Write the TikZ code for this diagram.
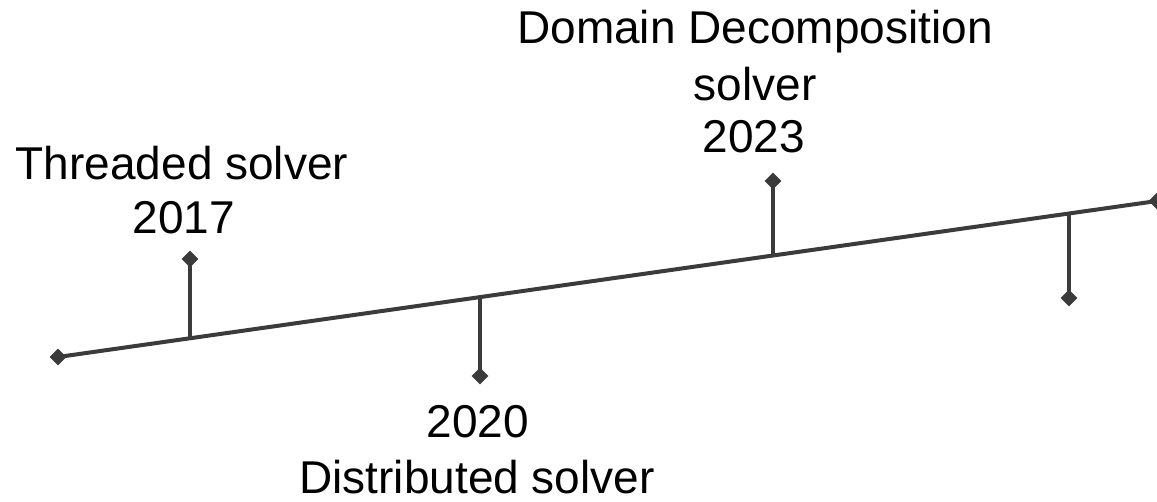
\documentclass[tikz,border=0pt]{standalone}
\usepackage{fontspec}
\setmainfont{Liberation Sans}
\usetikzlibrary{shapes.geometric}
\definecolor{linegray}{HTML}{3B3B3B}
\begin{document}
\begin{tikzpicture}[x=1pt,y=-1pt,
  axis/.style={draw=linegray,line width=4pt},
  stem/.style={draw=linegray,line width=4pt},
  knot/.style={diamond,fill=linegray,inner sep=0pt,minimum width=17pt,minimum height=17pt},
  txt/.style={anchor=base,inner sep=0pt,font=\fontsize{46}{55}\selectfont}]
  \useasboundingbox (0,0) rectangle (1157,501);

  % the time axis
  \coordinate (start) at (58,357);
  \coordinate (end) at (1157,201);
  \draw[axis] (start) -- (end);
  \node[knot] (k0) at (start) {};
  \node[knot] (k5) at (end) {};

  % points where the stems leave the axis
  \coordinate (b1) at (190,338.3);
  \coordinate (b2) at (480,297.1);
  \coordinate (b3) at (773,255.5);
  \coordinate (b4) at (1069,213.5);

  % stem tips
  \node[knot] (k1) at (190,259) {};
  \node[knot] (k2) at (480,376) {};
  \node[knot] (k3) at (773,181) {};
  \node[knot] (k4) at (1069,298) {};

  \draw[stem] (b1) -- (k1.center);
  \draw[stem] (b2) -- (k2.center);
  \draw[stem] (b3) -- (k3.center);
  \draw[stem] (b4) -- (k4.center);

  % labels
  \node[txt] (t1a) at (182,179) {Threaded solver};
  \node[txt] (t1b) at (184,233) {2017};

  \node[txt] (t2a) at (478,437) {2020};
  \node[txt] (t2b) at (477,493) {Distributed solver};

  \node[txt] (t3a) at (755,43) {Domain Decomposition};
  \node[txt] (t3b) at (755,100) {solver};
  \node[txt] (t3c) at (754,152) {2023};
\end{tikzpicture}
\end{document}
